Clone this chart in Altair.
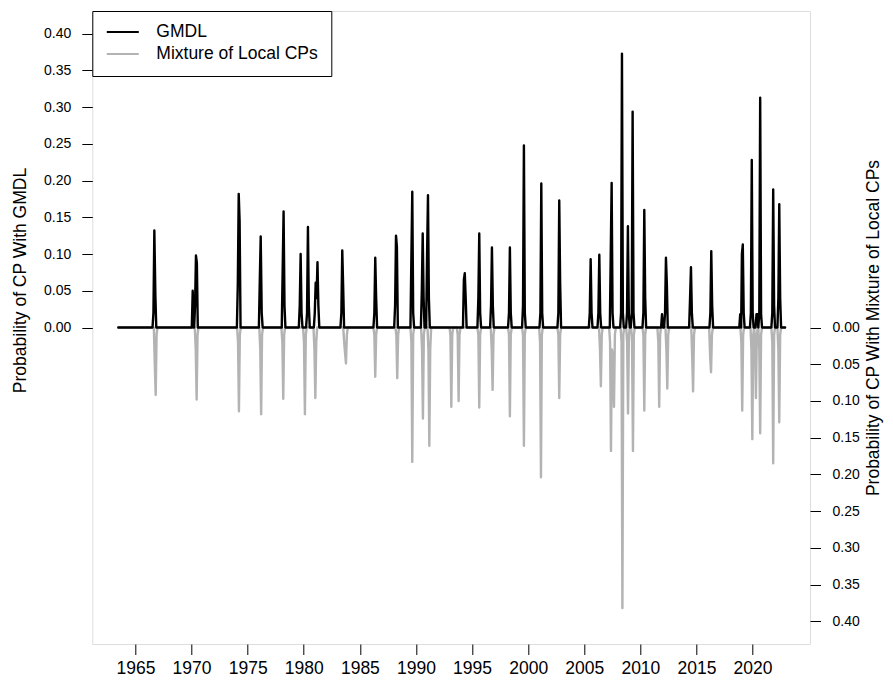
import altair as alt
import pandas as pd

# ---- data (decimal year, probability) ----
SERIES_START = 1963.47
SERIES_END = 2022.90

gmdl_year = [1966.60, 1966.68, 1966.77, 1970.10, 1970.31, 1970.39, 1970.47,
             1974.12, 1974.20, 1974.28, 1976.08, 1976.16, 1976.25,
             1978.12, 1978.20, 1978.28, 1979.64, 1979.72, 1979.80,
             1980.29, 1980.37, 1980.45, 1980.98, 1981.06, 1981.14, 1981.22, 1981.30,
             1983.35, 1983.43, 1983.51, 1986.29, 1986.37, 1986.45,
             1988.14, 1988.22, 1988.30, 1989.59, 1989.67, 1989.75,
             1990.52, 1990.60, 1990.68, 1990.99, 1991.07, 1991.15,
             1994.27, 1994.35, 1994.43, 1995.56, 1995.64, 1995.72,
             1996.69, 1996.77, 1996.85, 1998.29, 1998.37, 1998.45,
             1999.54, 1999.62, 1999.70, 2001.09, 2001.17, 2001.25,
             2002.69, 2002.77, 2002.85, 2005.49, 2005.57, 2005.65,
             2006.26, 2006.34, 2006.42, 2007.36, 2007.44, 2007.52,
             2008.28, 2008.36, 2008.44, 2008.81, 2008.89, 2008.97,
             2009.23, 2009.31, 2009.39, 2010.27, 2010.35, 2010.43,
             2011.93, 2012.20, 2012.28, 2012.36, 2014.43, 2014.51, 2014.59,
             2016.24, 2016.32, 2016.40, 2018.90, 2019.05, 2019.13, 2019.21,
             2019.85, 2019.93, 2020.01, 2020.35, 2020.43, 2020.60, 2020.68, 2020.76,
             2021.76, 2021.84, 2021.92, 2022.30, 2022.38, 2022.46]
gmdl_prob = [0.020, 0.132, 0.045, 0.050, 0.030, 0.098, 0.088,
             0.060, 0.182, 0.145, 0.065, 0.124, 0.020,
             0.080, 0.158, 0.030, 0.030, 0.100, 0.020,
             0.020, 0.137, 0.030, 0.020, 0.061, 0.040, 0.089, 0.030,
             0.020, 0.105, 0.055, 0.020, 0.095, 0.040,
             0.030, 0.125, 0.110, 0.095, 0.185, 0.020,
             0.050, 0.128, 0.040, 0.100, 0.180, 0.040,
             0.065, 0.074, 0.040, 0.040, 0.128, 0.020,
             0.030, 0.109, 0.030, 0.020, 0.109, 0.020,
             0.030, 0.248, 0.020, 0.020, 0.196, 0.020,
             0.020, 0.173, 0.060, 0.020, 0.093, 0.020,
             0.020, 0.099, 0.020, 0.100, 0.197, 0.020,
             0.020, 0.373, 0.020, 0.020, 0.138, 0.020,
             0.020, 0.294, 0.020, 0.020, 0.160, 0.040,
             0.018, 0.020, 0.095, 0.060, 0.040, 0.082, 0.020,
             0.020, 0.104, 0.030, 0.018, 0.100, 0.113, 0.020,
             0.020, 0.228, 0.020, 0.018, 0.018, 0.020, 0.313, 0.018,
             0.020, 0.188, 0.030, 0.040, 0.168, 0.040]

mix_year = [1966.72, 1966.80, 1966.88, 1970.37, 1970.45, 1970.53,
            1974.14, 1974.22, 1974.30, 1976.12, 1976.20, 1976.28,
            1978.09, 1978.17, 1978.25, 1980.02, 1980.10, 1980.18,
            1980.95, 1981.03, 1981.11, 1983.60, 1983.68, 1983.76, 1983.84,
            1986.29, 1986.37, 1986.45, 1988.25, 1988.33, 1988.41,
            1989.59, 1989.67, 1989.75, 1990.54, 1990.62, 1990.70,
            1991.11, 1991.19, 1991.27, 1993.07, 1993.15, 1993.23,
            1993.72, 1993.80, 1993.88, 1995.56, 1995.64, 1995.72,
            1996.75, 1996.83, 1996.91, 1998.29, 1998.37, 1998.45,
            1999.54, 1999.62, 1999.70, 2001.06, 2001.14, 2001.22,
            2002.69, 2002.77, 2002.85, 2006.40, 2006.48, 2006.56,
            2007.30, 2007.38, 2007.46, 2007.57, 2007.65, 2007.73,
            2008.32, 2008.40, 2008.48, 2008.82, 2008.90, 2008.98,
            2009.26, 2009.34, 2009.42, 2010.27, 2010.35, 2010.43,
            2011.60, 2011.68, 2011.76, 2012.32, 2012.40, 2012.48,
            2014.62, 2014.70, 2014.78, 2016.22, 2016.30, 2016.38,
            2019.00, 2019.08, 2019.16, 2019.90, 2019.98, 2020.06,
            2020.22, 2020.30, 2020.38, 2020.60, 2020.68, 2020.76,
            2021.76, 2021.84, 2021.92, 2022.30, 2022.38, 2022.46]
mix_prob = [0.050, 0.092, 0.010, 0.030, 0.098, 0.010,
            0.020, 0.114, 0.010, 0.030, 0.118, 0.010,
            0.020, 0.097, 0.010, 0.020, 0.118, 0.010,
            0.030, 0.096, 0.020, 0.020, 0.035, 0.049, 0.010,
            0.010, 0.067, 0.010, 0.010, 0.069, 0.010,
            0.020, 0.183, 0.010, 0.030, 0.124, 0.010,
            0.030, 0.161, 0.030, 0.010, 0.108, 0.010,
            0.010, 0.100, 0.010, 0.010, 0.109, 0.010,
            0.030, 0.085, 0.010, 0.010, 0.121, 0.010,
            0.010, 0.161, 0.010, 0.020, 0.204, 0.010,
            0.010, 0.096, 0.010, 0.030, 0.080, 0.010,
            0.020, 0.168, 0.030, 0.040, 0.108, 0.010,
            0.020, 0.382, 0.010, 0.020, 0.117, 0.010,
            0.020, 0.168, 0.010, 0.010, 0.113, 0.010,
            0.020, 0.108, 0.010, 0.030, 0.083, 0.010,
            0.040, 0.087, 0.010, 0.040, 0.061, 0.010,
            0.020, 0.113, 0.010, 0.030, 0.152, 0.010,
            0.020, 0.096, 0.010, 0.030, 0.144, 0.010,
            0.020, 0.185, 0.010, 0.030, 0.129, 0.010]

series_names = ["GMDL", "Mixture of Local CPs"]
series_colors = ["#000000", "#B3B3B3"]
x_ticks = [1965, 1970, 1975, 1980, 1985, 1990, 1995, 2000, 2005, 2010, 2015, 2020]
y_ticks = [0.0, 0.05, 0.10, 0.15, 0.20, 0.25, 0.30, 0.35, 0.40]

MONTH = 1.0 / 12.0


def build(years, probs, name, sign):
    """Monthly series: zero everywhere except at the listed months."""
    pts = sorted(zip(years, probs))
    rows = [(SERIES_START, 0.0)]
    prev = None
    for t, v in pts:
        if prev is None or t - prev > 1.5 * MONTH:
            if prev is not None:
                rows.append((prev + MONTH, 0.0))
            rows.append((t - MONTH, 0.0))
        rows.append((t, v))
        prev = t
    rows.append((prev + MONTH, 0.0))
    rows.append((SERIES_END, 0.0))
    return pd.DataFrame({"year": [r[0] for r in rows],
                         "p": [sign * r[1] for r in rows],
                         "series": name})


gmdl_df = build(gmdl_year, gmdl_prob, series_names[0], 1)
mix_df = build(mix_year, mix_prob, series_names[1], -1)

FONT = "Liberation Sans"
x_scale = alt.Scale(domain=[1961.15, 2025.12], nice=False, zero=False)
y_scale = alt.Scale(domain=[-0.431, 0.431], nice=False, zero=False)
color_scale = alt.Scale(domain=series_names, range=series_colors)

legend = alt.Legend(orient="none", legendX=0, legendY=0, title=None,
                    symbolType="stroke", symbolSize=1024, symbolStrokeWidth=2.2,
                    labelFontSize=17.5, labelFont=FONT, labelColor="black",
                    labelOffset=16, padding=13, clipHeight=16, rowPadding=4,
                    fillColor="white", strokeColor="black", labelLimit=400)

x_axis = alt.Axis(values=x_ticks, format="d", title=None, grid=False, domain=False,
                  tickSize=10.5, tickColor="black", labelColor="black",
                  labelFontSize=17.5, labelFont=FONT, labelPadding=5,
                  labelFlush=False, labelOverlap=False)

left_axis = alt.Axis(orient="left", values=y_ticks, format=".2f",
                     title="Probability of CP With GMDL", grid=False, domain=False,
                     tickSize=10.5, tickColor="black", labelColor="black",
                     labelFontSize=14, labelFont=FONT, labelPadding=11,
                     titleFontSize=17.5, titleFont=FONT, titleFontWeight="normal",
                     titleColor="black", titleX=-72, titleY=269,
                     titleAngle=270, titleBaseline="middle",
                     labelFlush=False, labelOverlap=False)

right_axis = alt.Axis(orient="right", values=[-v for v in y_ticks],
                      labelExpr="format(abs(datum.value), '.2f')",
                      title="Probability of CP With Mixture of Local CPs",
                      grid=False, domain=False,
                      tickSize=10.5, tickColor="black", labelColor="black",
                      labelFontSize=14, labelFont=FONT, labelPadding=11.5,
                      titleFontSize=17.5, titleFont=FONT, titleFontWeight="normal",
                      titleColor="black", titleX=63, titleY=316.5,
                      titleAngle=270, titleBaseline="middle",
                      labelFlush=False, labelOverlap=False)

line_style = dict(strokeWidth=2.4, strokeJoin="round", strokeCap="round")

grey = alt.Chart(mix_df).mark_line(**line_style).encode(
    x=alt.X("year:Q", scale=x_scale, axis=x_axis),
    y=alt.Y("p:Q", scale=y_scale, axis=right_axis),
    color=alt.Color("series:N", scale=color_scale, legend=legend),
)

black = alt.Chart(gmdl_df).mark_line(**line_style).encode(
    x=alt.X("year:Q", scale=x_scale, axis=x_axis),
    y=alt.Y("p:Q", scale=y_scale, axis=left_axis),
    color=alt.Color("series:N", scale=color_scale, legend=legend),
)

chart = alt.layer(grey, black).resolve_scale(y="independent").properties(
    width=717.7, height=633,
    autosize=alt.AutoSizeParams(type="none"),
    padding={"left": 84.3, "top": 3, "right": 75, "bottom": 36},
).configure_view(stroke="black", strokeWidth=1).configure(font=FONT)

chart.save("out.html", embed_options={"renderer": "svg", "actions": False})
